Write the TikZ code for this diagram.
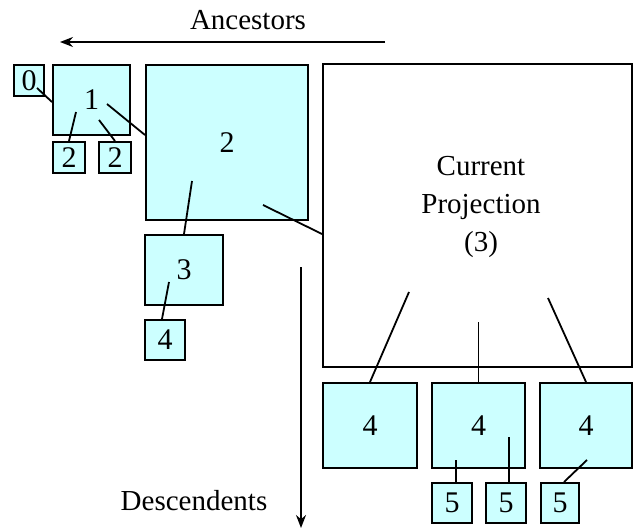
\documentclass[tikz,border=0pt]{standalone}
\usepackage{fontspec}
\setmainfont{Liberation Serif}
\usetikzlibrary{arrows.meta}
\definecolor{boxfill}{HTML}{CCFFFF}
\tikzset{
  box/.style={draw=black, fill=boxfill, line width=2pt, inner sep=0pt, font=\fontsize{30}{33}\selectfont},
  conn/.style={draw=black, line width=1.8pt},
  bigarrow/.style={draw=black, line width=1.6pt, -{Stealth[length=13pt,width=10pt]}},
  lbl/.style={font=\fontsize{29}{38}\selectfont, inner sep=0pt}
}
\begin{document}
\begin{tikzpicture}[x=1pt,y=-1pt]
\useasboundingbox (0,0) rectangle (634,529);
% boxes
\node[box, minimum width=30pt, minimum height=31pt] (b0) at (29,80.5) {0};
\node[box, minimum width=77pt, minimum height=70pt] (b1) at (91.5,100) {1};
\node[box, minimum width=32pt, minimum height=31pt] (b2a) at (69,157.5) {2};
\node[box, minimum width=32pt, minimum height=31pt] (b2b) at (115,157.5) {2};
\node[box, minimum width=162pt, minimum height=155pt] (b2) at (227,142.5) {2};
\node[box, fill=white, minimum width=309pt, minimum height=303pt] (bc) at (477.5,215.5) {};
\node[lbl, align=center] (bctext) at (481,207) {Current\\Projection\\(3)};
\node[box, minimum width=78pt, minimum height=70pt] (b3) at (184,270) {3};
\node[box, minimum width=40pt, minimum height=40pt] (b4s) at (165,340) {4};
\node[box, minimum width=94pt, minimum height=85pt] (b4a) at (370,425.5) {4};
\node[box, minimum width=93pt, minimum height=85pt] (b4b) at (478.5,425.5) {4};
\node[box, minimum width=92pt, minimum height=85pt] (b4c) at (586,425.5) {4};
\node[box, minimum width=40pt, minimum height=40pt] (b5a) at (452,503) {5};
\node[box, minimum width=40pt, minimum height=40pt] (b5b) at (506,503) {5};
\node[box, minimum width=38pt, minimum height=40pt] (b5c) at (560,503) {5};
% free ends of connectors inside parents
\coordinate (p0) at (37,88);
\coordinate (p1a) at (107,104);
\coordinate (p1b) at (76,112);
\coordinate (p1c) at (99,120);
\coordinate (p2a) at (192,181);
\coordinate (p2b) at (263,205);
\coordinate (p3) at (169,282);
\coordinate (pc1) at (409,292);
\coordinate (pc2) at (478.5,322);
\coordinate (pc3) at (548,298);
\coordinate (p4a) at (456,460);
\coordinate (p4b) at (509,437);
\coordinate (p4c) at (587,460);
% connectors
\draw[conn] (p0) -- ([yshift=-2pt]b1.west);
\draw[conn] (p1a) -- ([yshift=7.5pt]b2.west);
\draw[conn] (p1b) -- (b2a.north);
\draw[conn] (p1c) -- (b2b.north);
\draw[conn] (p2a) -- (b3.north);
\draw[conn] (p2b) -- ([yshift=-18.5pt]bc.west);
\draw[conn] (p3) -- ([xshift=-3pt]b4s.north);
\draw[conn] (pc1) -- (b4a.north);
\draw[conn] (pc2) -- (b4b.north);
\draw[conn] (pc3) -- (b4c.north);
\draw[conn] (p4a) -- ([xshift=4pt]b5a.north);
\draw[conn] (p4b) -- ([xshift=3pt]b5b.north);
\draw[conn] (p4c) -- ([xshift=4pt]b5c.north);
% arrows
\coordinate (ancS) at (385,42);
\coordinate (ancE) at (60,42);
\draw[bigarrow] (ancS) -- (ancE);
\node[lbl, anchor=base] (anc) at (248,30) {Ancestors};
\coordinate (desS) at (301,267);
\coordinate (desE) at (301,528);
\draw[bigarrow] (desS) -- (desE);
\node[lbl, anchor=base] (des) at (194,510) {Descendents};
\end{tikzpicture}
\end{document}
